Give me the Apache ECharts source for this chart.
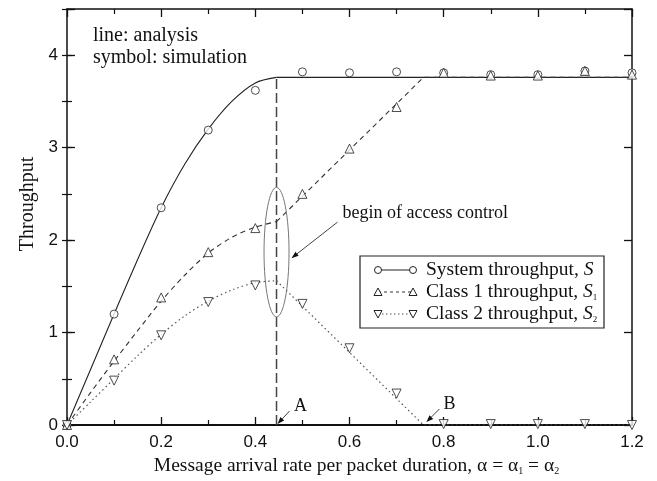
<!DOCTYPE html>
<html><head><meta charset="utf-8">
<script src="https://cdn.jsdelivr.net/npm/echarts@6/dist/echarts.min.js"></script>
<style>html,body{margin:0;padding:0;background:#fff}#c{width:657px;height:481px}</style>
</head><body><div id="c"></div>
<script>
// ---- simulation (symbols) ----
const simX  = [0, 0.1, 0.2, 0.3, 0.4, 0.5, 0.6, 0.7, 0.8, 0.9, 1.0, 1.1, 1.2];
const simS  = [0, 1.20, 2.35, 3.19, 3.62, 3.82, 3.81, 3.82, 3.81, 3.79, 3.79, 3.83, 3.81];
const simS1 = [0, 0.71, 1.38, 1.87, 2.13, 2.50, 2.99, 3.44, 3.81, 3.78, 3.78, 3.83, 3.79];
const simS2 = [0, 0.48, 0.97, 1.33, 1.51, 1.31, 0.83, 0.34, 0.01, 0.01, 0.01, 0.01, 0.00];

// ---- analysis (lines): curved part before access control, straight part after ----
const curveX   = [0, 0.05, 0.1, 0.15, 0.2, 0.25, 0.3, 0.35, 0.4, 0.445];
const curveS   = [0, 0.60, 1.20, 1.79, 2.35, 2.82, 3.20, 3.50, 3.70, 3.76];
const curveS1  = [0, 0.35, 0.69, 1.02, 1.34, 1.62, 1.86, 2.03, 2.14, 2.20];
const curveS2  = [0, 0.25, 0.50, 0.75, 0.98, 1.18, 1.34, 1.46, 1.54, 1.56];
const tailSX   = [0.445, 1.2];
const tailS    = [3.76, 3.76];
const tailX    = [0.445, 0.757, 1.2];
const tailS1   = [2.20, 3.76, 3.76];
const tailS2   = [1.56, 0, 0];

// ---- access-control marker ----
const controlX = [0.445, 0.445];
const controlY = [0, 3.76];
const pointA = [0.445, 0];
const pointB = [0.757, 0];

// ---- axes ----
const xMin = 0, xMax = 1.2, xStep = 0.2;
const yMin = 0, yMax = 4.5, yStep = 1;

const zip = (xs, ys) => xs.map((x, i) => [x, ys[i]]);
const SERIF = 'Liberation Serif, Times New Roman, serif';
const SANS = 'Liberation Sans, Arial, sans-serif';

const chart = echarts.init(document.getElementById('c'), null, {renderer: 'canvas'});

const baseX = {
  type: 'value', min: xMin, max: xMax, interval: xStep,
  splitLine: {show: false},
  axisLine: {show: true, onZero: false, lineStyle: {color: '#111', width: 1.5}},
  axisTick: {show: true, inside: true, length: 8, lineStyle: {color: '#111', width: 1.3}},
  minorTick: {show: true, splitNumber: 2, length: 5, lineStyle: {color: '#111', width: 1.2}}
};
const baseY = {
  type: 'value', min: yMin, max: yMax,
  splitLine: {show: false},
  axisLine: {show: true, onZero: false, lineStyle: {color: '#111', width: 1.5}},
  axisLabel: {show: false}
};

chart.setOption({
  animation: false,
  backgroundColor: '#fff',
  grid: {left: 67, right: 25, top: 9, bottom: 55, containLabel: false},
  xAxis: [
    Object.assign({}, baseX, {
      position: 'bottom',
      axisLine: {show: true, onZero: false, lineStyle: {color: '#111', width: 2}},
      axisLabel: {show: true, margin: 9, fontSize: 17, fontFamily: SANS, color: '#111',
        formatter: v => v.toFixed(1)},
      name: 'Message arrival rate per packet duration, α = α{sub|1} = α{sub|2}',
      nameLocation: 'middle', nameGap: 31,
      nameTextStyle: {fontFamily: SERIF, fontSize: 19.5, color: '#111', padding: [0, 0, 0, 14],
        rich: {sub: {fontFamily: SERIF, fontSize: 10, color: '#111', verticalAlign: 'bottom', lineHeight: 14, padding: [6, 0, 0, 0]}}}
    }),
    Object.assign({}, baseX, {position: 'top', axisLabel: {show: false}})
  ],
  yAxis: [
    Object.assign({}, baseY, {
      position: 'left', interval: yStep,
      axisTick: {show: true, inside: true, length: 8, lineStyle: {color: '#111', width: 1.3}},
      axisLabel: {show: true, margin: 9, fontSize: 17, fontFamily: SANS, color: '#111',
        formatter: v => (Math.abs(v - Math.round(v)) < 1e-6 ? String(Math.round(v)) : '')},
      name: 'Throughput', nameLocation: 'middle', nameGap: 28,
      nameTextStyle: {fontFamily: SERIF, fontSize: 20, color: '#111', padding: [0, 0, 0, 26]}
    }),
    Object.assign({}, baseY, {position: 'left', interval: yStep / 2, axisLine: {show: false},
      axisTick: {show: true, inside: true, length: 5, lineStyle: {color: '#111', width: 1.2}}}),
    Object.assign({}, baseY, {position: 'right', interval: yStep,
      axisTick: {show: true, inside: true, length: 8, lineStyle: {color: '#111', width: 1.3}}}),
    Object.assign({}, baseY, {position: 'right', interval: yStep / 2, axisLine: {show: false},
      axisTick: {show: true, inside: true, length: 5, lineStyle: {color: '#111', width: 1.2}}})
  ],
  series: [
    {name: 'S analysis', type: 'line', data: zip(curveX, curveS), smooth: 0.3, showSymbol: false,
      lineStyle: {color: '#222', width: 1.1, type: 'solid'}, z: 3},
    {name: 'S analysis tail', type: 'line', data: zip(tailSX, tailS), showSymbol: false,
      lineStyle: {color: '#222', width: 1.1, type: 'solid'}, z: 3},
    {name: 'S1 analysis', type: 'line', data: zip(curveX, curveS1), smooth: 0.3, showSymbol: false,
      lineStyle: {color: '#333', width: 1.1, type: [5, 4]}, z: 3},
    {name: 'S1 analysis tail', type: 'line', data: zip(tailX, tailS1), showSymbol: false,
      lineStyle: {color: '#333', width: 1.1, type: [5, 4]}, z: 3},
    {name: 'S2 analysis', type: 'line', data: zip(curveX, curveS2), smooth: 0.3, showSymbol: false,
      lineStyle: {color: '#555', width: 1.2, type: [1.5, 3]}, z: 3},
    {name: 'S2 analysis tail', type: 'line', data: zip(tailX, tailS2), showSymbol: false,
      lineStyle: {color: '#555', width: 1.2, type: [1.5, 3]}, z: 3},
    {name: 'access control', type: 'line', data: zip(controlX, controlY), showSymbol: false,
      lineStyle: {color: '#444', width: 1.5, type: [10, 4]}, z: 2},
    {name: 'System throughput', type: 'scatter', data: zip(simX, simS), symbol: 'circle', symbolSize: 8,
      itemStyle: {color: '#fff', borderColor: '#222', borderWidth: 1}, z: 5},
    {name: 'Class 1 throughput', type: 'scatter', data: zip(simX, simS1), symbol: 'triangle', symbolSize: 9,
      itemStyle: {color: '#fff', borderColor: '#222', borderWidth: 1}, z: 6},
    {name: 'Class 2 throughput', type: 'scatter', data: zip(simX, simS2), symbol: 'triangle', symbolRotate: 180, symbolSize: 9,
      itemStyle: {color: '#fff', borderColor: '#222', borderWidth: 1}, z: 6}
  ]
});

// ---- annotations (anchored via the axes) ----
const P = (d) => chart.convertToPixel({xAxisIndex: 0, yAxisIndex: 0}, d);
function arrow(from, to, color) {
  const dx = to[0] - from[0], dy = to[1] - from[1];
  const L = Math.hypot(dx, dy), ux = dx / L, uy = dy / L;
  const hl = 7, hw = 2.6;
  const bx = to[0] - ux * hl, by = to[1] - uy * hl;
  return [
    {type: 'line', shape: {x1: from[0], y1: from[1], x2: bx, y2: by}, style: {stroke: color, lineWidth: 1}, z: 20},
    {type: 'polygon', shape: {points: [to, [bx - uy * hw, by + ux * hw], [bx + uy * hw, by - ux * hw]]},
      style: {fill: '#111'}, z: 20}
  ];
}

const eTop = P([controlX[0], 2.57]), eBot = P([controlX[0], 1.17]);
const ecx = eTop[0], ecy = (eTop[1] + eBot[1]) / 2, ery = (eBot[1] - eTop[1]) / 2, erx = 12.5;
const pA = P(pointA), pB = P(pointB);

const g = [];
g.push({type: 'text', x: 93, y: 25, z: 20,
  style: {text: 'line: analysis\nsymbol: simulation', font: '20px ' + SERIF, fill: '#111', lineHeight: 22}});
g.push({type: 'ellipse', z: 20,
  shape: {cx: ecx, cy: ecy, rx: erx, ry: ery},
  style: {fill: null, stroke: '#777', lineWidth: 1}});
g.push({type: 'text', x: ecx + 66, y: ecy - 39, z: 20,
  style: {text: 'begin of access control', font: '18px ' + SERIF, fill: '#111', verticalAlign: 'middle'}});
arrow([ecx + 61, ecy - 30], [ecx + 15, ecy + 6], '#444').forEach(e => g.push(e));
g.push({type: 'text', x: pA[0] + 24, y: pA[1] - 19, z: 20,
  style: {text: 'A', font: '18px ' + SERIF, fill: '#111', align: 'center', verticalAlign: 'middle'}});
arrow([pA[0] + 13, pA[1] - 14], [pA[0] + 1, pA[1] - 1], '#444').forEach(e => g.push(e));
g.push({type: 'text', x: pB[0] + 26, y: pB[1] - 21, z: 20,
  style: {text: 'B', font: '18px ' + SERIF, fill: '#111', align: 'center', verticalAlign: 'middle'}});
arrow([pB[0] + 16, pB[1] - 16], [pB[0] + 3, pB[1] - 3], '#444').forEach(e => g.push(e));

// ---- legend box ----
const LX = 360, LY = 256, LW = 244, LH = 72;
g.push({type: 'rect', shape: {x: LX, y: LY, width: LW, height: LH}, z: 18,
  style: {fill: '#fff', stroke: '#222', lineWidth: 1.2}});
const rows = [
  {label: 'System throughput, {i|S}', dash: null, color: '#222', sym: 'circle'},
  {label: 'Class 1 throughput, {i|S}{sub|1}', dash: [3, 3], color: '#333', sym: 'up'},
  {label: 'Class 2 throughput, {i|S}{sub|2}', dash: [1.5, 2.5], color: '#555', sym: 'down'}
];
const sx0 = LX + 18, sx1 = LX + 53, tx = LX + 66;
rows.forEach((r, i) => {
  const cy = LY + 14 + i * 22;
  g.push({type: 'line', shape: {x1: sx0, y1: cy, x2: sx1, y2: cy}, z: 19,
    style: {stroke: r.color, lineWidth: 1, lineDash: r.dash}});
  [sx0, sx1].forEach(cx => {
    if (r.sym === 'circle') {
      g.push({type: 'circle', shape: {cx: cx, cy: cy, r: 3.5}, z: 20, style: {fill: '#fff', stroke: '#222', lineWidth: 1}});
    } else {
      const s = r.sym === 'up' ? 1 : -1;
      g.push({type: 'polygon', z: 20, shape: {points: [[cx, cy - 4 * s], [cx + 4, cy + 3.5 * s], [cx - 4, cy + 3.5 * s]]},
        style: {fill: '#fff', stroke: '#222', lineWidth: 1}});
    }
  });
  g.push({type: 'text', x: tx, y: cy, z: 20,
    style: {text: r.label, font: '19.5px ' + SERIF, fill: '#111', verticalAlign: 'middle',
      rich: {i: {font: 'italic 19.5px ' + SERIF, fill: '#111'},
             sub: {font: '9px ' + SERIF, fill: '#111', verticalAlign: 'bottom', padding: [10, 0, 0, 0]}}}});
});
chart.setOption({graphic: g});
</script></body></html>
